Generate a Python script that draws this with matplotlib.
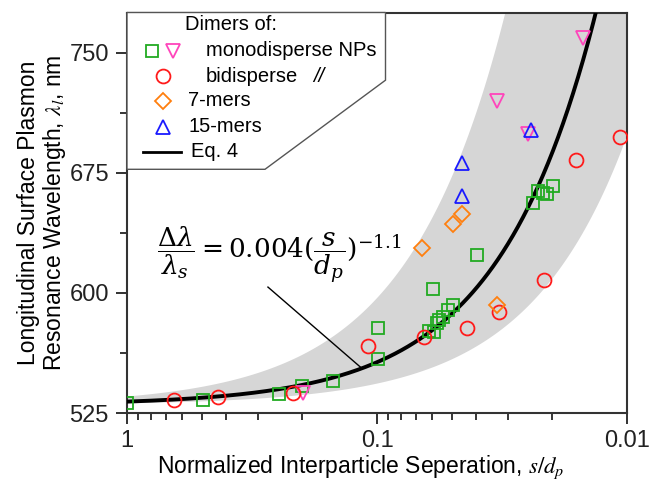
import numpy as np
import matplotlib
matplotlib.use('Agg')
import matplotlib.pyplot as plt
from matplotlib.patches import Polygon
from matplotlib.lines import Line2D
from matplotlib.ticker import FixedLocator, FixedFormatter, LogLocator, NullFormatter

plt.rcParams['font.family'] = ['Liberation Sans', 'DejaVu Sans']
plt.rcParams['mathtext.fontset'] = 'stix'

# ---- data ----
mono_sq_s = [1.0, 0.495, 0.247, 0.200, 0.150, 0.0994, 0.0994, 0.0618, 0.0592, 0.0577,
             0.0564, 0.0546, 0.0519, 0.0495, 0.0595, 0.0397, 0.0238, 0.0228, 0.0217,
             0.0208, 0.0198]
mono_sq_l = [531.0, 533.1, 536.9, 541.9, 545.2, 558.6, 578.3, 576.4, 575.8, 581.1,
             583.1, 585.2, 589.4, 592.2, 602.3, 623.8, 656.1, 663.3, 662.3,
             661.9, 666.9]
mono_tri_s = [0.197, 0.0250, 0.0332, 0.0150]
mono_tri_l = [537.3, 699.4, 719.6, 759.2]
bi_s = [0.647, 0.431, 0.216, 0.109, 0.0647, 0.0438, 0.0324, 0.0214, 0.0160, 0.0107]
bi_l = [533.1, 535.2, 537.7, 567.1, 572.7, 577.9, 588.3, 608.1, 682.7, 697.3]
mer7_s = [0.0663, 0.0495, 0.0458, 0.0330]
mer7_l = [628.3, 643.1, 649.4, 592.5]
mer15_s = [0.0458, 0.0458, 0.0242]
mer15_l = [660.6, 681.1, 701.9]

# Eq. 4 parameters and band coefficients
lam_s = 530.0
coef = 0.004
expo = -1.1
band_lo, band_hi = 0.002, 0.010

xticks = [1, 0.1, 0.01]
xticklabels = ['1', '0.1', '0.01']
yticks = [525, 600, 675, 750]

# ---- figure ----
fig = plt.figure(figsize=(6.56, 4.84), dpi=100)
ax = fig.add_axes([127/656, 1 - 413/484, 500/656, 400.5/484])

s = np.logspace(0, -2, 400)
ax.fill_between(s, lam_s*(1 + band_lo*s**expo), lam_s*(1 + band_hi*s**expo),
                color='#d6d6d6', lw=0, zorder=1)
ax.plot(s, lam_s*(1 + coef*s**expo), color='black', lw=2.8, zorder=3)

mk = dict(ls='none', mfc='none', mew=1.3, zorder=4)
green, pink, red, orange, blue = '#22aa22', '#ff44bb', '#ff1a1a', '#ff7f0e', '#1a1aff'
ax.plot(mono_sq_s, mono_sq_l, marker='s', ms=8, mec=green, **mk)
ax.plot(mono_tri_s, mono_tri_l, marker='v', ms=10, mec=pink, **mk)
ax.plot(bi_s, bi_l, marker='o', ms=10, mec=red, **mk)
ax.plot(mer7_s, mer7_l, marker='D', ms=8, mec=orange, **mk)
ax.plot(mer15_s, mer15_l, marker='^', ms=10, mec=blue, **mk)

ax.set_xscale('log')
ax.set_xlim(1, 0.01)
ax.set_ylim(525, 775)
ax.xaxis.set_major_locator(FixedLocator(xticks))
ax.xaxis.set_major_formatter(FixedFormatter(xticklabels))
ax.xaxis.set_minor_locator(LogLocator(base=10, subs=np.arange(2, 10)))
ax.xaxis.set_minor_formatter(NullFormatter())
ax.set_yticks(yticks)
ax.set_yticks([562.5, 637.5, 712.5], minor=True)
ax.tick_params(which='major', direction='out', length=8, width=1.3, labelsize=17, colors='#222222')
ax.tick_params(which='minor', direction='out', length=5, width=1.1)
ax.tick_params(axis='x', pad=4)
ax.tick_params(axis='y', pad=5)
for sp in ax.spines.values():
    sp.set_linewidth(1.5)
    sp.set_color('#333333')

ax.set_xlabel('Normalized Interparticle Seperation, $s/d_p$', fontsize=16.5, labelpad=4)
ax.xaxis.set_label_coords(0.468, -0.102)
ax.set_ylabel('Longitudinal Surface Plasmon\nResonance Wavelength, $\\lambda_l$, nm',
              fontsize=16.5, linespacing=1.05, labelpad=1)

# equation annotation
ax.text(0.2466, 624, r'$\dfrac{\Delta\lambda}{\lambda_s} = 0.004(\dfrac{s}{d_p})^{-1.1}$',
        fontsize=19, ha='center', va='center', zorder=5, math_fontfamily='dejavuserif')
ax.plot([0.273, 0.115], [603.6, 552.9], color='black', lw=1.0, zorder=5)

# custom legend box
tr = ax.transAxes
poly = Polygon([(0, 1), (0.517, 1), (0.517, 0.831), (0.276, 0.6085), (0, 0.6085)],
               closed=True, transform=tr, facecolor='white', edgecolor='#555555',
               lw=1.0, zorder=6, clip_on=False)
ax.add_patch(poly)
fs = 14.5
ax.text(0.116, 0.969, 'Dimers of:', transform=tr, fontsize=fs, va='center', zorder=7)
lm = dict(ls='none', mfc='none', mew=1.3, transform=tr, zorder=7, clip_on=False)
ax.add_line(Line2D([0.05], [0.905], marker='s', ms=8, mec=green, **lm))
ax.add_line(Line2D([0.0914], [0.905], marker='v', ms=10, mec=pink, **lm))
ax.text(0.158, 0.905, 'monodisperse NPs', transform=tr, fontsize=fs, va='center', zorder=7)
ax.add_line(Line2D([0.0726], [0.841], marker='o', ms=10, mec=red, **lm))
ax.text(0.158, 0.841, 'bidisperse', transform=tr, fontsize=fs, va='center', zorder=7)
ax.text(0.372, 0.841, '//', transform=tr, fontsize=fs, va='center', style='italic', zorder=7)
ax.add_line(Line2D([0.072], [0.780], marker='D', ms=8, mec=orange, **lm))
ax.text(0.1226, 0.780, '7-mers', transform=tr, fontsize=fs, va='center', zorder=7)
ax.add_line(Line2D([0.072], [0.715], marker='^', ms=10, mec=blue, **lm))
ax.text(0.1226, 0.715, '15-mers', transform=tr, fontsize=fs, va='center', zorder=7)
ax.add_line(Line2D([0.0314, 0.1074], [0.652, 0.652], color='black', lw=2.0,
                   transform=tr, zorder=7, clip_on=False))
ax.text(0.128, 0.652, 'Eq. 4', transform=tr, fontsize=fs, va='center', zorder=7)

fig.savefig('out.png', dpi=100)
